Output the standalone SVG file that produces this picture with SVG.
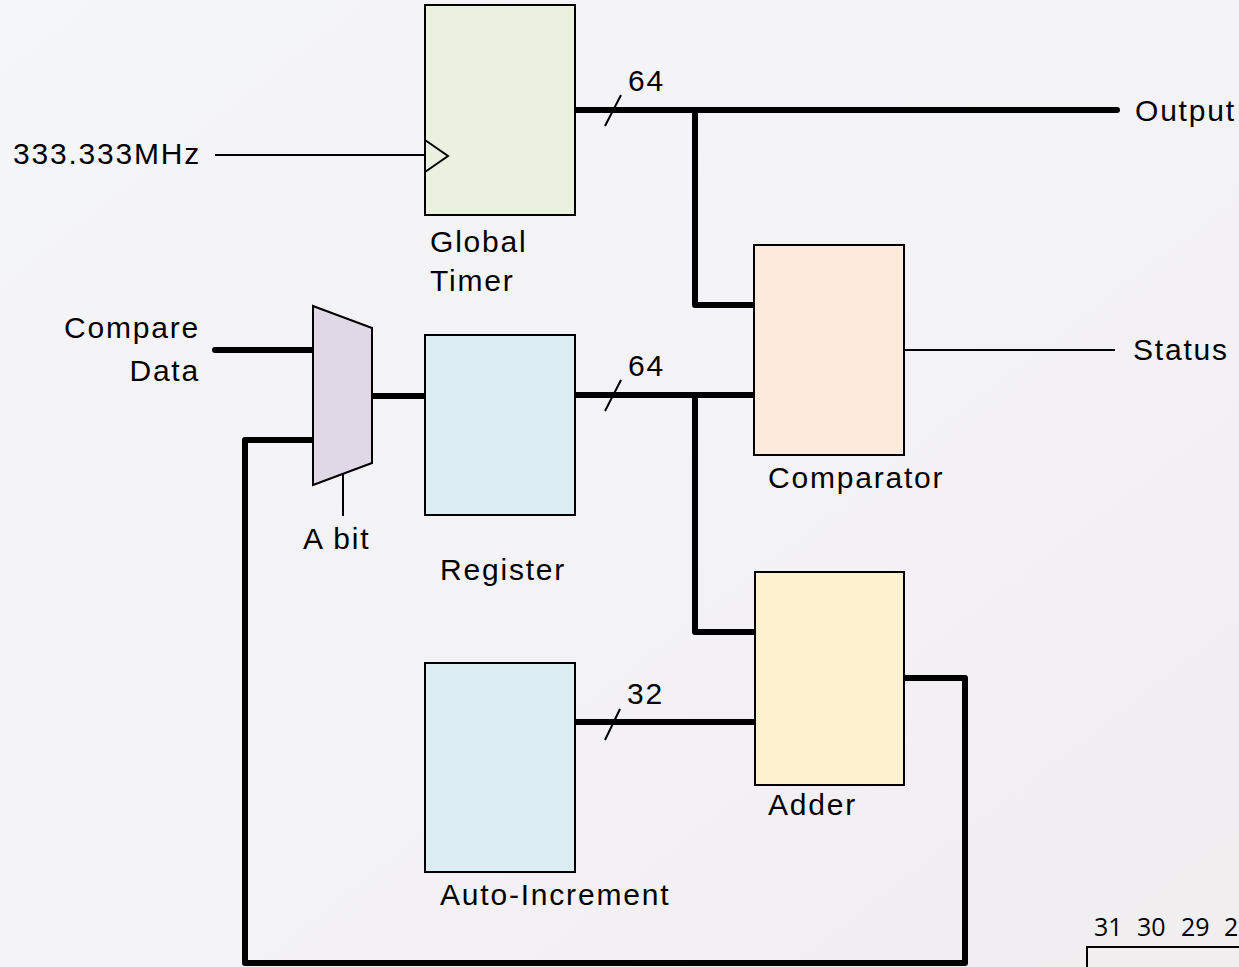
<svg xmlns="http://www.w3.org/2000/svg" width="1239" height="967" viewBox="0 0 1239 967">
<defs>
<linearGradient id="bg" x1="0" y1="0" x2="1" y2="1">
<stop offset="0" stop-color="#F5F6FA"/>
<stop offset="1" stop-color="#F1EEF0"/>
</linearGradient>
<style>
.box{stroke:#000;stroke-width:2}
.bus{fill:none;stroke:#000;stroke-width:6;stroke-linecap:round;stroke-linejoin:round}
.wire{fill:none;stroke:#000;stroke-width:2}
.lbl{font-family:"Liberation Sans",Arial,sans-serif;font-size:30px;fill:#000;letter-spacing:1.8px}
.num{font-family:"Open Sans","Liberation Sans",sans-serif;font-size:25px;fill:#000}
</style>
</defs>
<rect x="0" y="0" width="1239" height="967" fill="url(#bg)"/>

<g id="connectors">
<line class="wire" x1="215" y1="155" x2="425" y2="155"/>
<polyline class="bus" points="575,110 1117,110"/>
<polyline class="bus" points="695,110 695,305 755,305"/>
<line class="wire" x1="605" y1="126" x2="621" y2="95"/>
<polyline class="bus" points="215,350 313,350"/>
<polyline class="bus" points="372,396 425,396"/>
<polyline class="bus" points="575,395 755,395"/>
<polyline class="bus" points="695,395 695,632 755,632"/>
<line class="wire" x1="605" y1="411" x2="621" y2="380"/>
<line class="wire" x1="904" y1="350" x2="1115" y2="350"/>
<polyline class="bus" points="575,722 755,722"/>
<line class="wire" x1="605" y1="740" x2="620" y2="709"/>
<polyline class="bus" points="905,678 965,678 965,963 245,963 245,440 313,440"/>
<line class="wire" x1="343" y1="473" x2="343" y2="516"/>
</g>

<g id="global-timer">
<rect class="box" x="425" y="5" width="150" height="210" fill="#EAF1DF"/>
<polyline class="wire" points="425,140 448,156 425,172"/>
<text class="lbl" x="430" y="252">Global</text>
<text class="lbl" x="430" y="291">Timer</text>
</g>

<g id="mux">
<polygon class="box" points="313,306 372,328 372,463 313,485" fill="#E0D8E6"/>
<text class="lbl" x="303" y="549">A bit</text>
</g>

<g id="register">
<rect class="box" x="425" y="335" width="150" height="180" fill="#DCEDF3"/>
<text class="lbl" x="440" y="580">Register</text>
</g>

<g id="comparator">
<rect class="box" x="754" y="245" width="150" height="210" fill="#FCEADD"/>
<text class="lbl" x="768" y="488">Comparator</text>
</g>

<g id="adder">
<rect class="box" x="755" y="572" width="149" height="213" fill="#FEF1CF"/>
<text class="lbl" x="768" y="815">Adder</text>
</g>

<g id="auto-increment">
<rect class="box" x="425" y="663" width="150" height="209" fill="#DCEDF3"/>
<text class="lbl" x="440" y="905">Auto-Increment</text>
</g>

<g id="labels">
<text class="lbl" x="13" y="164">333.333MHz</text>
<text class="lbl" x="628" y="91">64</text>
<text class="lbl" x="628" y="376">64</text>
<text class="lbl" x="627" y="704">32</text>
<text class="lbl" x="1135" y="121">Output</text>
<text class="lbl" x="1133" y="360">Status</text>
<text class="lbl" x="200" y="338" text-anchor="end">Compare</text>
<text class="lbl" x="200" y="381" text-anchor="end">Data</text>
</g>

<g id="bit-register">
<text class="num" x="1094" y="936">31</text>
<text class="num" x="1137" y="936">30</text>
<text class="num" x="1181" y="936">29</text>
<text class="num" x="1224" y="936">2</text>
<polyline fill="none" stroke="#000" stroke-width="2" points="1087,967 1087,947 1239,947"/>
</g>
</svg>
